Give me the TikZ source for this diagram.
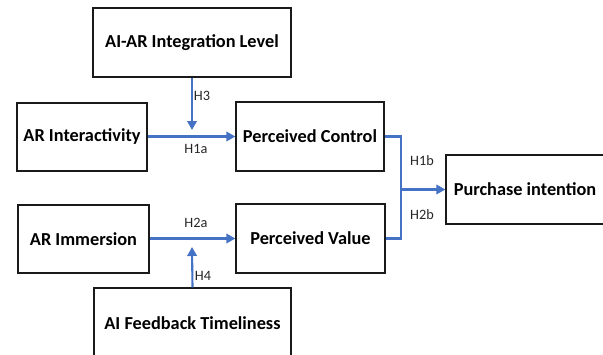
\documentclass[tikz,border=0pt]{standalone}
\usepackage{fontspec}
\setmainfont{Carlito}
\usetikzlibrary{arrows.meta}
\definecolor{arrowblue}{HTML}{4472C4}
\definecolor{boxline}{HTML}{1A1A1A}
\begin{document}
\begin{tikzpicture}[x=1pt,y=-1pt,
  box/.style={draw=boxline,line width=1.3pt,rectangle,inner sep=0pt,
    font=\fontsize{18.3}{20}\selectfont\bfseries,text=black},
  lbl/.style={inner sep=0pt,font=\fontsize{14.3}{16}\selectfont,text=black!85},
  conn/.style={draw=arrowblue,line width=2.1pt},
  arr/.style={conn,-{Triangle[length=9pt,width=9.5pt]}}]
\clip (0,0) rectangle (603,354);
\useasboundingbox (0,0) rectangle (603,354);
\node[box,minimum width=198pt,minimum height=69pt] (ai) at (192,42.5) {AI-AR Integration Level};
\node[box,minimum width=130pt,minimum height=68pt] (ari) at (82,137) {AR Interactivity};
\node[box,minimum width=148pt,minimum height=69pt] (pc) at (310,136.5) {Perceived Control};
\node[box,minimum width=131pt,minimum height=68pt] (arm) at (83.5,239) {AR Immersion};
\node[box,minimum width=149pt,minimum height=69pt] (pv) at (310.5,238.5) {Perceived Value};
\node[box,minimum width=158pt,minimum height=69pt] (pi) at (525,189.5) {Purchase intention};
\node[box,minimum width=197pt,minimum height=70pt] (fb) at (192.5,323) {AI Feedback Timeliness};
\coordinate (h3end) at (192,130);
\coordinate (h4end) at (192,247);
\coordinate (jc) at (401,136.5);
\coordinate (jv) at (401,238.5);
\coordinate (jm) at (401,189.5);
\draw[arr] (ari.east |- pc.west) -- (pc.west);
\draw[arr] (arm.east |- pv.west) -- (pv.west);
\draw[arr] (ai.south) -- (h3end);
\draw[arr] (fb.north) -- (h4end);
\draw[conn,line join=miter] (pc.east) -- (jc) -- (jv) -- (pv.east);
\draw[arr] (jm) -- (pi.west);
\node[lbl] (l3) at (202,96) {H3};
\node[lbl] (l1a) at (196,149) {H1a};
\node[lbl] (l1b) at (422,161) {H1b};
\node[lbl] (l2b) at (422,215) {H2b};
\node[lbl] (l2a) at (196,223) {H2a};
\node[lbl] (l4) at (203,276) {H4};
\end{tikzpicture}
\end{document}
